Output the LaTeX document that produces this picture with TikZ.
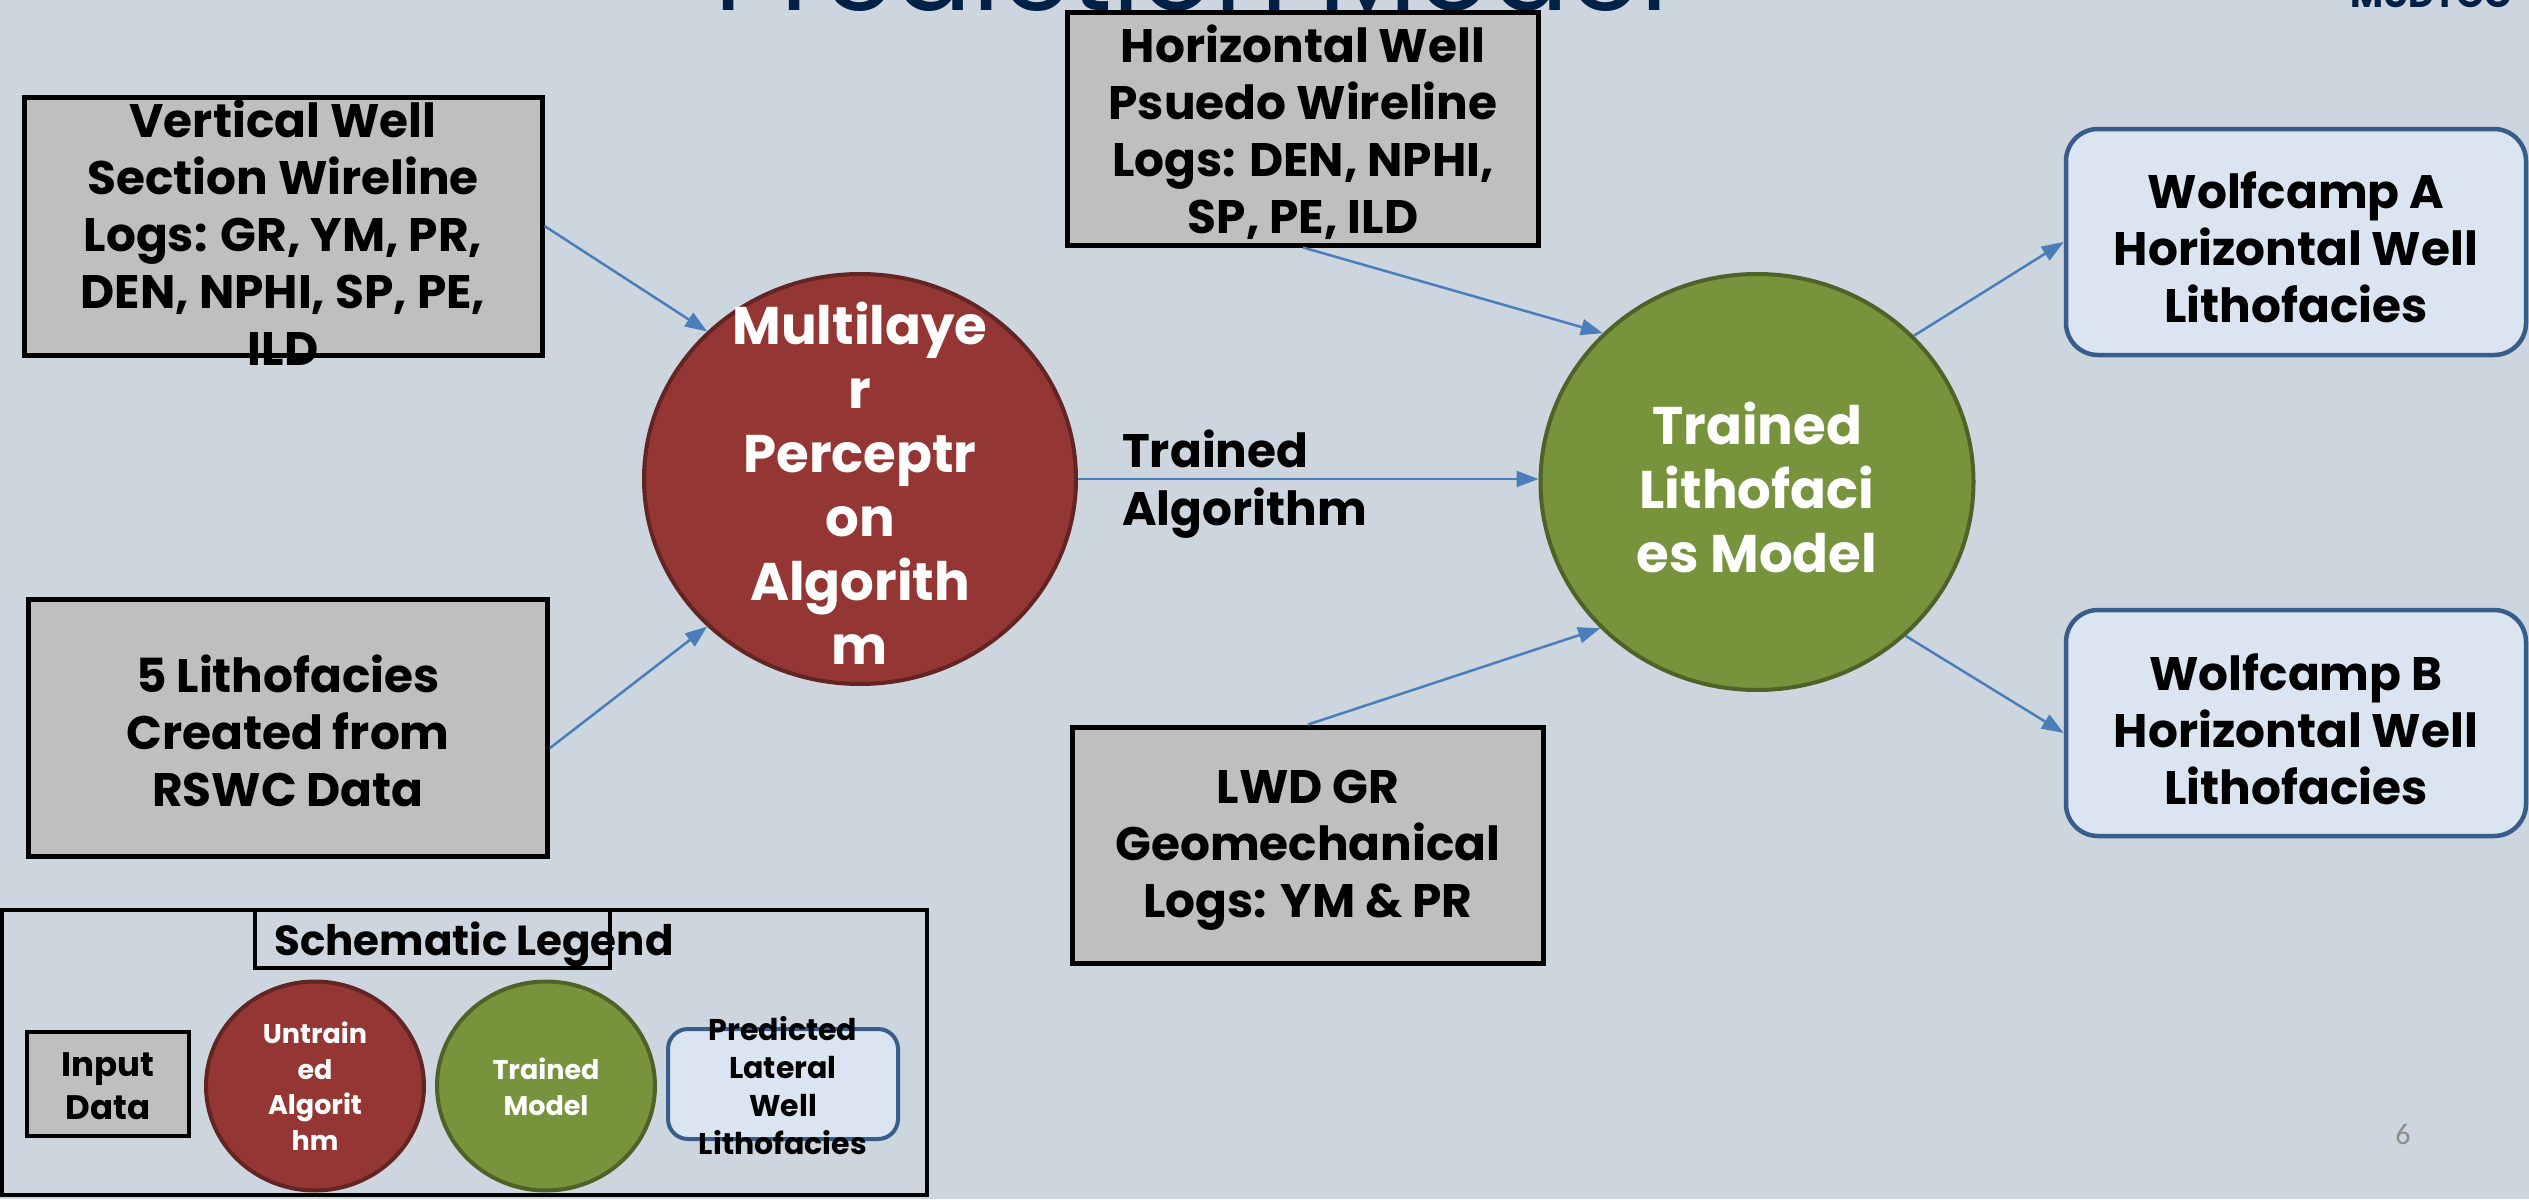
\documentclass[tikz,border=0pt]{standalone}
\usepackage{fontspec}
\setmainfont{Poppins}
\newfontfamily\numfont{Carlito}
\usetikzlibrary{arrows.meta,shapes.geometric}
\definecolor{bg}{RGB}{205,213,222}
\definecolor{boxgray}{RGB}{191,191,191}
\definecolor{redfill}{RGB}{148,54,52}
\definecolor{redline}{RGB}{99,37,35}
\definecolor{greenfill}{RGB}{119,147,60}
\definecolor{greenline}{RGB}{79,98,40}
\definecolor{outfill}{RGB}{219,229,241}
\definecolor{outline}{RGB}{56,93,138}
\definecolor{arrowblue}{RGB}{74,126,187}
\definecolor{navy}{RGB}{0,33,71}
\definecolor{pagenum}{RGB}{140,140,140}
\tikzset{
  inbox/.style={rectangle, draw=black, fill=boxgray, line width=5pt, inner sep=0pt},
  redball/.style={ellipse, draw=redline, fill=redfill, line width=4pt, inner sep=0pt},
  greenball/.style={ellipse, draw=greenline, fill=greenfill, line width=4pt, inner sep=0pt},
  outbox/.style={rectangle, rounded corners=32pt, draw=outline, fill=outfill, line width=4.5pt, inner sep=0pt},
  btxt/.style={align=center, inner sep=0pt, font=\bfseries\fontsize{47}{57}\selectfont},
  wtxt/.style={align=center, inner sep=0pt, text=white, font=\bfseries\fontsize{53}{64}\selectfont},
  conn/.style={draw=arrowblue, line width=2.5pt, -{Triangle[length=22pt,width=16pt]}},
}
\begin{document}
\begin{tikzpicture}[x=1pt,y=-1pt]
\useasboundingbox (0,0) rectangle (2529,1199);
\fill[bg] (0,0) rectangle (2529,1199);

% partially visible title and logo
\node[anchor=base west, inner sep=0pt, text=navy, font=\fontsize{115}{115}\selectfont] (title) at (714,11) {Prediction Model};
\node[anchor=base east, inner sep=0pt, text=navy, font=\bfseries\fontsize{36}{36}\selectfont] (logo) at (2512,8) {MUDTOC};

% input boxes
\node[inbox, minimum width=518pt, minimum height=258pt] (vert) at (283,226) {};
\node[btxt] (vertt) at (283,233) {Vertical Well\\Section Wireline\\Logs: GR, YM, PR,\\DEN, NPHI, SP, PE,\\ILD};
\node[inbox, minimum width=519pt, minimum height=257pt] (litho) at (288,728) {};
\node[btxt] (lithot) at (288,731) {5 Lithofacies\\Created from\\RSWC Data};
\node[inbox, minimum width=471pt, minimum height=232pt] (horiz) at (1303,129) {};
\node[btxt] (horizt) at (1303,132) {Horizontal Well\\Psuedo Wireline\\Logs: DEN, NPHI,\\SP, PE, ILD};
\node[inbox, minimum width=471pt, minimum height=236pt] (lwd) at (1308,845) {};
\node[btxt] (lwdt) at (1308,850) {LWD GR\\Geomechanical\\Logs: YM \& PR};

% algorithm and model
\node[redball, minimum width=432pt, minimum height=410pt] (mlp) at (860,479) {};
\node[wtxt] (mlpt) at (860,483) {Multilaye\\r\\Perceptr\\on\\Algorith\\m};
\node[greenball, minimum width=433pt, minimum height=416pt] (model) at (1757,482) {};
\node[wtxt] (modelt) at (1757,487) {Trained\\Lithofaci\\es Model};

% outputs
\node[outbox, minimum width=460pt, minimum height=226pt] (wa) at (2296,242) {};
\node[btxt] (wat) at (2296,247) {Wolfcamp A\\Horizontal Well\\Lithofacies};
\node[outbox, minimum width=460pt, minimum height=226pt] (wb) at (2296,723) {};
\node[btxt] (wbt) at (2296,729) {Wolfcamp B\\Horizontal Well\\Lithofacies};

% connectors
\draw[conn] (vert.east) -- (mlp.136);
\draw[conn] ([yshift=-20pt]litho.east) -- (mlp.224);
\draw[conn] (mlp.east) -- (mlp.east -| model.west);
\node[anchor=west, align=left, inner sep=0pt, font=\bfseries\fontsize{47}{58}\selectfont] (tal) at (1122,484) {Trained\\Algorithm};
\draw[conn] (horiz.south) -- (model.136);
\draw[conn] (lwd.north) -- (model.223);
\draw[conn] (model.43) -- (wa.west);
\draw[conn] (model.314) -- ([yshift=-10pt]wb.west);

% legend
\draw[line width=4pt] (2,910) rectangle (927,1195);
\node[rectangle, draw=black, line width=4pt, minimum width=355pt, minimum height=58pt, inner sep=0pt] (legt) at (432.5,939) {};
\node[inner sep=0pt, font=\bfseries\fontsize{42}{42}\selectfont] (legtt) at (474,944) {Schematic Legend};
\node[inbox, line width=4pt, minimum width=162pt, minimum height=104pt] (lin) at (108,1084) {};
\node[align=center, inner sep=0pt, font=\bfseries\fontsize{34}{43}\selectfont] (lint) at (108,1086) {Input\\Data};
\node[redball, minimum width=218pt, minimum height=209pt] (lred) at (315,1086) {};
\node[align=center, inner sep=0pt, text=white, font=\bfseries\fontsize{27}{35.5}\selectfont] (lredt) at (315,1086) {Untrain\\ed\\Algorit\\hm};
\node[greenball, minimum width=218pt, minimum height=209pt] (lgreen) at (546,1086) {};
\node[align=center, inner sep=0pt, text=white, font=\bfseries\fontsize{27}{36}\selectfont] (lgreent) at (546,1087) {Trained\\Model};
\node[outbox, rounded corners=20pt, line width=4pt, minimum width=230pt, minimum height=110pt] (lout) at (783,1084) {};
\node[align=center, inner sep=0pt, font=\bfseries\fontsize{30}{38}\selectfont] (loutt) at (783,1086) {Predicted\\Lateral\\Well\\Lithofacies};

% page number
\node[inner sep=0pt, text=pagenum, font=\numfont\fontsize{30}{30}\selectfont] (pnum) at (2403,1134) {6};
\end{tikzpicture}
\end{document}
